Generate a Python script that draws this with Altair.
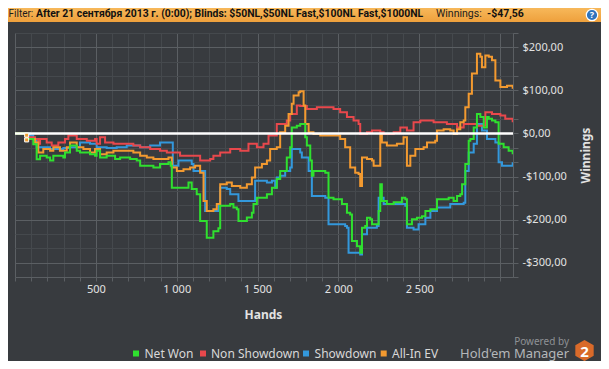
import altair as alt
import pandas as pd

# ---------------- data ----------------
net_won_hands = [0, 72, 113, 134, 155, 196, 217, 237, 299, 309, 340, 382, 402, 464, 495, 505, 526, 567, 619, 650,
                 712, 753, 774, 815, 856, 897, 949, 963, 970, 1021, 1073, 1093, 1124, 1145, 1176, 1186, 1217, 1227,
                 1258, 1269, 1300, 1331, 1351, 1372, 1382, 1434, 1465, 1475, 1496, 1558, 1589, 1619, 1640, 1681,
                 1702, 1712, 1743, 1764, 1795, 1805, 1826, 1836, 1846, 1919, 1939, 1970, 2022, 2053, 2073, 2084,
                 2115, 2135, 2146, 2166, 2177, 2197, 2208, 2228, 2249, 2259, 2269, 2300, 2342, 2383, 2393, 2414,
                 2424, 2455, 2486, 2517, 2538, 2569, 2610, 2651, 2682, 2713, 2734, 2754, 2765, 2785, 2806, 2816,
                 2837, 2857, 2878, 2899, 2919, 2930, 2950, 2971, 2991, 3022, 3053, 3078]
net_won_vals = [0, -13, -25, -60, -52, -56, -63, -52, -56, -44, -28, -40, -44, -48, -52, -40, -56, -52, -59, -56,
                -59, -63, -75, -75, -79, -71, -67, -75, -126, -126, -114, -129, -141, -203, -203, -242, -242, -227,
                -220, -168, -168, -164, -172, -176, -203, -195, -184, -164, -149, -141, -126, -106, -87, -56,
                -32, 14, 18, 22, -9, -28, -63, -98, -87, -91, -149, -153, -164, -184, -188, -250,
                -262, -277, -219, -215, -196, -199, -211, -211, -180, -118, -157, -164, -160, -160, -149, -153,
                -211, -199, -196, -192, -180, -176, -153, -153, -149, -157, -145, -141, -118, -71, -17, -13,
                14, 45, 38, 14, 38, 34, 30, 26, -24, -32, -40, -48]

non_sd_hands = [0, 72, 124, 144, 155, 196, 227, 268, 309, 330, 382, 444, 495, 505, 526, 557, 609, 670, 732, 774,
                836, 897, 939, 1021, 1083, 1145, 1207, 1227, 1269, 1331, 1393, 1444, 1496, 1537, 1568, 1619, 1681,
                1702, 1743, 1764, 1805, 1867, 1929, 1970, 2011, 2053, 2094, 2125, 2135, 2177, 2208, 2259, 2280,
                2342, 2383, 2424, 2465, 2507, 2589, 2671, 2734, 2775, 2816, 2857, 2909, 2950, 3002, 3032, 3078]
non_sd_vals = [0, -9, -13, -24, -13, -21, -28, -21, -13, -5, -13, -17, -13, -24, -9, -21, -24, -24, -28, -32,
               -36, -40, -44, -52, -52, -63, -59, -52, -44, -36, -40, -24, -32, -24, -5, 22, 30,
               45, 65, 64, 57, 61, 61, 57, 49, 38, 30, 22, -1, 3, 7, 3, -1,
               3, 14, 7, 26, 30, 26, 22, 14, 22, 22, 18, 49, 45, 42, 34, 26]

showdown_hands = [0, 93, 113, 134, 217, 299, 340, 402, 464, 505, 567, 629, 691, 774, 836, 897, 970, 976, 1011, 1052,
                  1093, 1104, 1145, 1176, 1227, 1258, 1269, 1310, 1331, 1372, 1382, 1454, 1485, 1558, 1589, 1609,
                  1619, 1640, 1671, 1702, 1712, 1764, 1774, 1816, 1836, 1919, 1939, 2042, 2053, 2063, 2135, 2146,
                  2177, 2238, 2249, 2280, 2383, 2414, 2424, 2465, 2496, 2538, 2569, 2610, 2692, 2775, 2785, 2806,
                  2837, 2857, 2888, 2919, 2971, 2991, 3012, 3078]
showdown_vals = [0, -5, -13, -32, -36, -34, -32, -21, -24, -32, -34, -32, -28, -32, -28, -21, -21, -75, -63, -63,
                 -71, -87, -87, -180, -180, -168, -126, -129, -141, -141, -157, -157, -110, -114, -110, -126,
                 -102, -98, -87, -79, -36, -44, -56, -87, -145, -149, -211, -215, -219, -277, -281, -234,
                 -219, -215, -149, -164, -164, -168, -219, -223, -211, -196, -180, -172, -164, -161, -87, -44,
                 -24, 22, 7, -13, -21, -67, -75, -67]

all_in_ev_hands = [0, 72, 124, 144, 175, 217, 237, 278, 320, 340, 382, 423, 464, 495, 526, 567, 609, 670, 732, 774,
                   815, 856, 918, 949, 970, 1001, 1042, 1083, 1114, 1145, 1166, 1186, 1227, 1248, 1269, 1310, 1341,
                   1393, 1434, 1465, 1485, 1527, 1558, 1578, 1619, 1640, 1671, 1692, 1712, 1723, 1754, 1764, 1785,
                   1795, 1816, 1846, 1888, 1950, 2011, 2042, 2073, 2104, 2125, 2135, 2146, 2177, 2208, 2218, 2238,
                   2259, 2269, 2300, 2362, 2403, 2424, 2445, 2476, 2527, 2548, 2599, 2610, 2651, 2692, 2713, 2734,
                   2754, 2775, 2785, 2806, 2826, 2857, 2878, 2888, 2909, 2930, 2950, 2971, 3002, 3043, 3078]
all_in_ev_vals = [0, -13, -21, -44, -36, -40, -32, -40, -32, -21, -32, -36, -44, -36, -48, -44, -40, -40, -44, -52,
                  -56, -59, -59, -56, -79, -87, -83, -79, -75, -91, -157, -180, -176, -164, -118, -114, -122,
                  -126, -118, -102, -79, -71, -63, -36, -32, 3, 18, 45, 69, 88, 96, 98, 65,
                  22, 3, -1, -5, -5, -13, -32, -79, -91, -94, -122, -56, -59, -63, -75, -75,
                  -1, -21, -28, -24, -9, -75, -52, -36, -32, -21, -17, 7, 10, 7, -1, 10,
                  26, 30, 61, 92, 139, 185, 178, 154, 181, 178, 170, 123, 108, 111, 104]

# small all-in markers near the start
marker_hands = [72, 72]
marker_vals = [-4, -15]

series_names = ["Net Won", "Non Showdown", "Showdown", "All-In EV"]
series_colors = ["#2fe02f", "#e8484c", "#3398dc", "#f39a30"]

x_ticks = list(range(0, 3100, 100))
y_ticks = [k * 100 / 3 for k in range(-10, 8)]

# ---------------- styling ----------------
BG = "#383b3f"
GRID_MINOR = "#45494d"
GRID_MAJOR = "#5b5f63"
TEXT = "#e2e2e2"
FONT = "Noto Sans"

def frame(hands, vals, name):
    return pd.DataFrame({"hands": hands, "val": vals, "series": name})

# draw order: Showdown, Non Showdown, All-In EV, Net Won (green on top)
lines_df = pd.concat([
    frame(showdown_hands, showdown_vals, "Showdown"),
    frame(non_sd_hands, non_sd_vals, "Non Showdown"),
    frame(all_in_ev_hands, all_in_ev_vals, "All-In EV"),
    frame(net_won_hands, net_won_vals, "Net Won"),
], ignore_index=True)

x_scale = alt.Scale(domain=[0, 3080], nice=False, zero=False)
y_scale = alt.Scale(domain=[-1000 / 3, 700 / 3], nice=False, zero=False)

x_axis = alt.Axis(
    values=x_ticks, grid=True,
    gridColor={"condition": {"test": "datum.value % 500 === 0", "value": GRID_MAJOR}, "value": GRID_MINOR},
    domain=True, domainColor=GRID_MAJOR, ticks=True, tickColor=GRID_MAJOR, tickSize=4,
    labelExpr="(datum.value % 500 === 0 && datum.value > 0 && datum.value < 3000) ? replace(format(datum.value, ','), ',', ' ') : ''",
    labelColor=TEXT, labelFont=FONT, labelFontSize=11, labelPadding=2, labelOverlap=False,
    title="Hands", titleColor=TEXT, titleFont=FONT, titleFontSize=12, titleFontWeight="bold",
    titleX=248, titleY=37, titleBaseline="middle", titleAlign="center",
)
y_axis = alt.Axis(
    orient="right", values=y_ticks, grid=True,
    gridColor={"condition": {"test": "abs(datum.value % 100) < 0.5 || abs(datum.value % 100) > 99.5", "value": GRID_MAJOR}, "value": GRID_MINOR},
    domain=True, domainColor=GRID_MAJOR, ticks=True, tickColor=GRID_MAJOR, tickSize=5,
    labelExpr="(abs(datum.value % 100) < 0.5 || abs(datum.value % 100) > 99.5) ? ((datum.value < -0.5 ? '-$' : '$') + format(abs(round(datum.value)), 'd') + ',00') : ''",
    labelColor=TEXT, labelFont=FONT, labelFontSize=11, labelPadding=4, labelOverlap=False,
    title="Winnings", titleColor=TEXT, titleFont=FONT, titleFontSize=12, titleFontWeight="bold",
    titleAngle=270, titleX=72, titleY=122, titleBaseline="middle", titleAlign="center",
)

lines = alt.Chart(lines_df).mark_line(strokeWidth=2, clip=True, interpolate="step-after").encode(
    x=alt.X("hands:Q", scale=x_scale, axis=x_axis),
    y=alt.Y("val:Q", scale=y_scale, axis=y_axis),
    color=alt.Color("series:N", scale=alt.Scale(domain=series_names, range=series_colors), legend=None),
    detail="series:N",
)

zero_line = alt.Chart(pd.DataFrame({"val": [0]})).mark_rule(color="#ffffff", strokeWidth=2.5).encode(
    y=alt.Y("val:Q", scale=y_scale, axis=y_axis)
)

markers = alt.Chart(pd.DataFrame({"hands": marker_hands, "val": marker_vals})).mark_square(
    size=16, color="#f0a030", stroke="#ffffff", strokeWidth=1, opacity=1
).encode(
    x=alt.X("hands:Q", scale=x_scale, axis=x_axis),
    y=alt.Y("val:Q", scale=y_scale, axis=y_axis),
)

one = pd.DataFrame({"a": [0]})

def txt(text, x, y, size, color, weight="normal", align="left", font=FONT, baseline="middle"):
    return alt.Chart(one).mark_text(
        text=text, align=align, baseline=baseline, font=font, fontSize=size,
        fontWeight=weight, color=color,
    ).encode(x=alt.value(x), y=alt.value(y))

# header bar
header = alt.Chart(one).mark_rect(
    color=alt.Gradient(gradient="linear", stops=[alt.GradientStop(color="#f7b85a", offset=0),
                                                 alt.GradientStop(color="#eea03c", offset=1)],
                       x1=0, x2=0, y1=0, y2=1)
).encode(x=alt.value(-7), x2=alt.value(586), y=alt.value(-25), y2=alt.value(-11))

HF = "Roboto"
header_texts = [
    txt("Filter:", -6.5, -19, 10, "#1c1c1c", font=HF),
    txt("After 21 сентября 2013 г. (0:00); Blinds: $50NL,$50NL Fast,$100NL Fast,$1000NL", 21, -19, 10.4, "#111111", "bold", font=HF),
    txt("Winnings:", 421, -19, 10.5, "#1c1c1c", font=HF),
    txt("-$47,56", 472, -19, 10.5, "#111111", "bold", font=HF),
]
help_icon = alt.Chart(one).mark_point(filled=True, shape="circle", size=130, color="#2f74bd",
                                      stroke="#ffffff", strokeWidth=1.2, opacity=1).encode(
    x=alt.value(577), y=alt.value(-18))
help_q = txt("?", 577, -18, 9, "#ffffff", "bold", "center")

# legend
legend_layers = []
sq_x = [121, 188, 291, 368.7]
tx_x = [129.5, 196, 299.6, 377]
for name, col, sx, tx in zip(series_names, series_colors, sq_x, tx_x):
    legend_layers.append(alt.Chart(one).mark_square(size=36, color=col, opacity=1).encode(
        x=alt.value(sx), y=alt.value(320.5)))
    legend_layers.append(txt(name, tx, 320.5, 12, "#d8d8d8"))

# branding
brand = [
    txt("Powered by", 554, 308.5, 10, "#8e9195", align="right"),
    txt("Hold'em Manager", 554, 321, 13, "#b4b7ba", align="right"),
]
hex_path = "M0,-1L0.866,-0.5L0.866,0.5L0,1L-0.866,0.5L-0.866,-0.5Z"
hex_logo = alt.Chart(one).mark_point(filled=True, shape=hex_path, size=450, color="#d96a2a", opacity=1).encode(
    x=alt.value(569.5), y=alt.value(317.5))
hex_two = txt("2", 569.5, 318.5, 15, "#ffffff", "bold", "center")

chart = alt.layer(
    lines, zero_line, markers, header, *header_texts, help_icon, help_q, *legend_layers, *brand, hex_logo, hex_two
).properties(
    width=498, height=244,
    autosize=alt.AutoSizeParams(type="none"),
    padding={"left": 7, "top": 25, "right": 88, "bottom": 84},
    background=BG,
).configure_view(
    stroke=GRID_MAJOR, strokeWidth=1,
)

chart.save("out.html", embed_options={"renderer": "svg", "actions": False})
